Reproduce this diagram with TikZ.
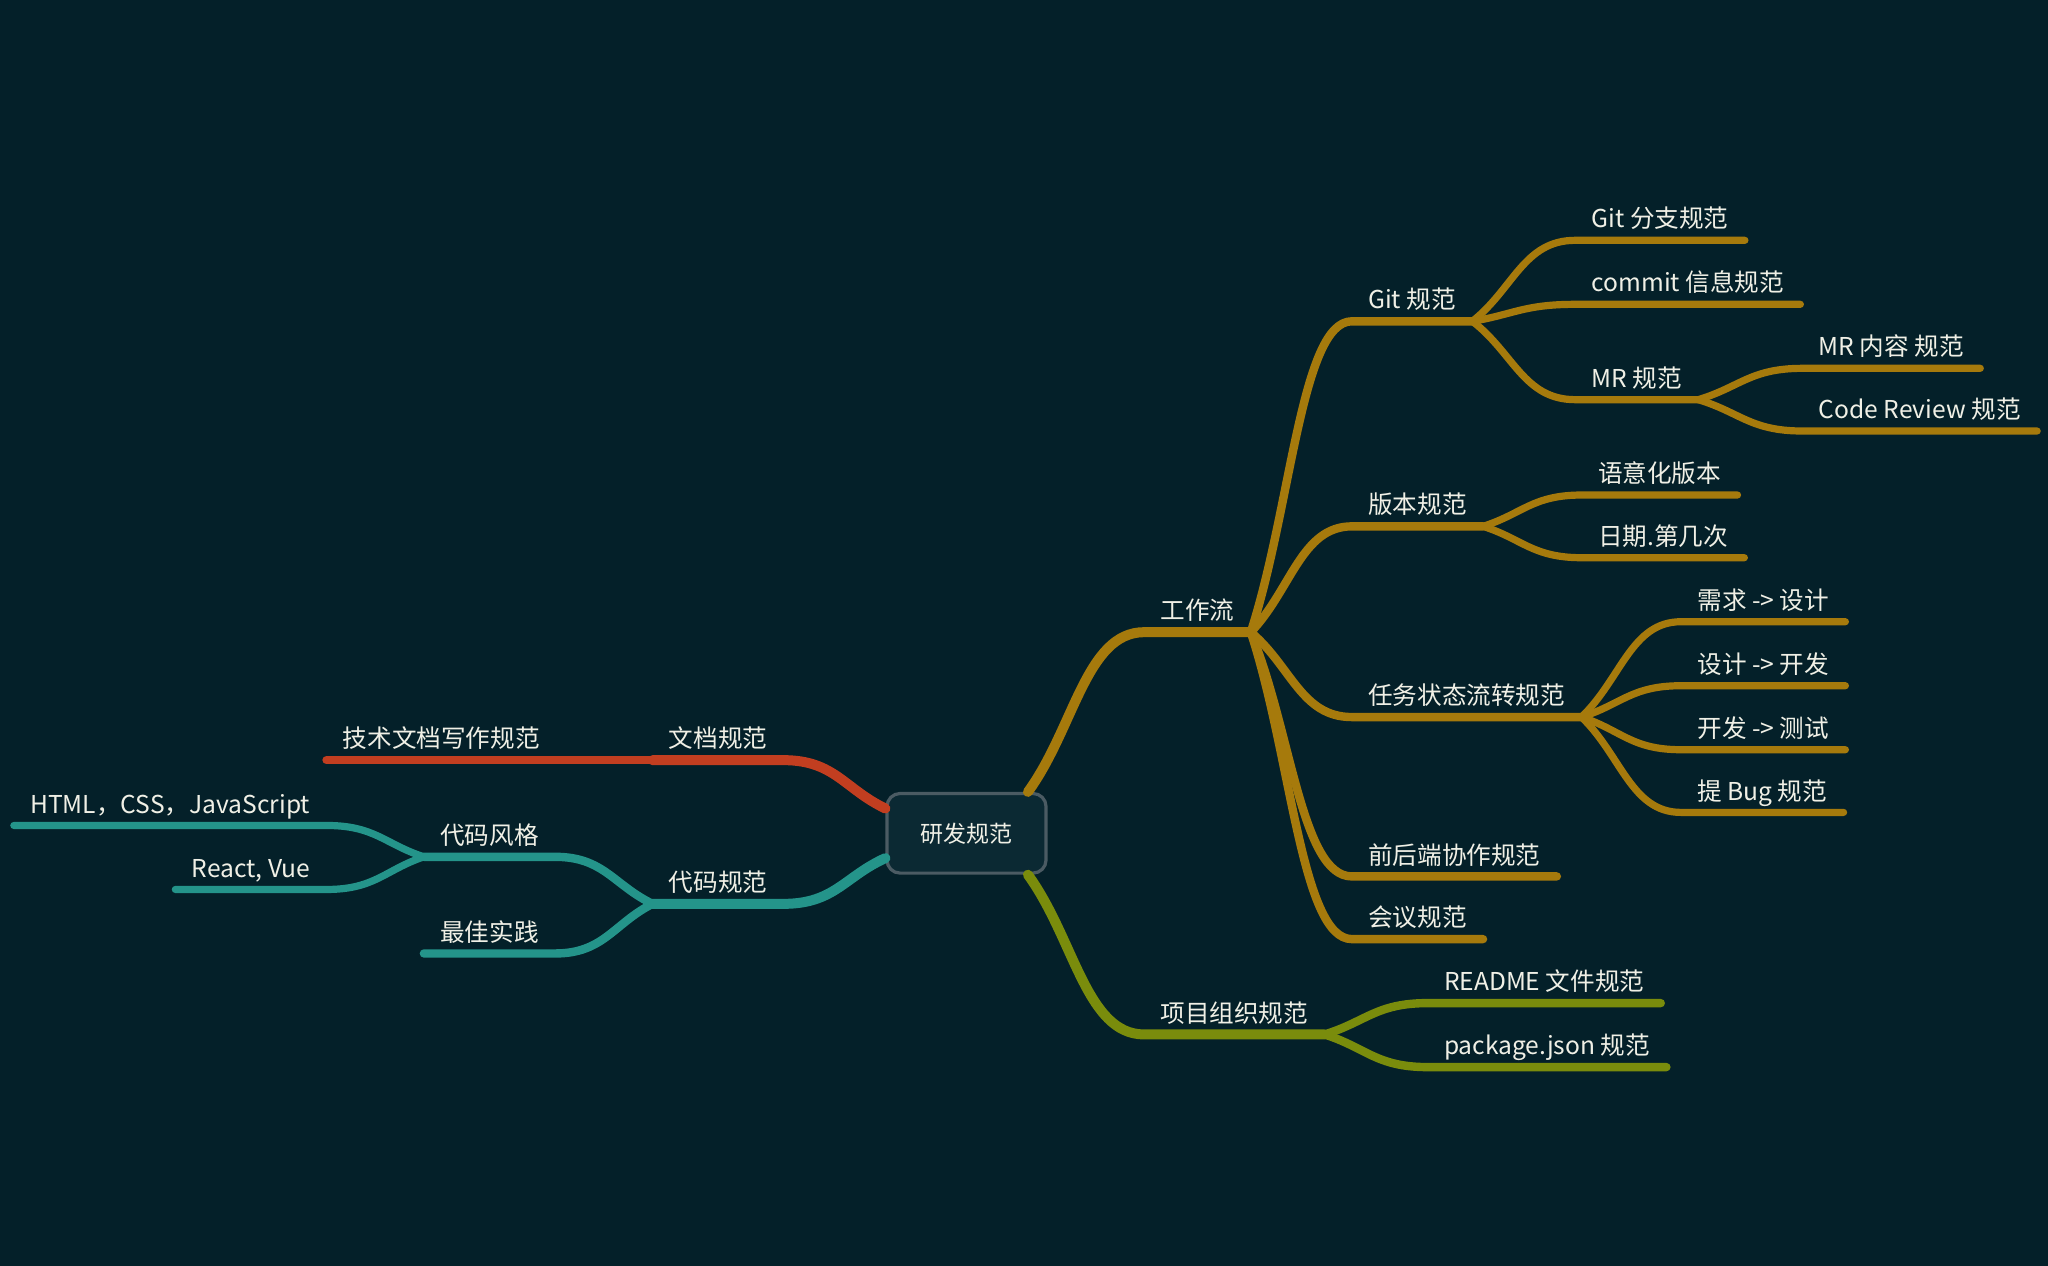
\documentclass[tikz,border=0pt]{standalone}
\usepackage{fontspec}
\newfontfamily\cjk{Noto Sans CJK SC}
\usetikzlibrary{calc}
\definecolor{mapbg}   {RGB}{  4, 32, 41}
\definecolor{rootfill}{RGB}{ 11, 41, 51}
\definecolor{rootline}{RGB}{ 75, 91, 99}
\definecolor{mapgold} {RGB}{166,122, 12}
\definecolor{mapred}  {RGB}{194, 62, 32}
\definecolor{mapteal} {RGB}{ 36,148,138}
\definecolor{mapolive}{RGB}{122,140, 12}
\definecolor{maptext} {RGB}{240,240,230}

\begin{document}
\begin{tikzpicture}[
    x=0.653pt, y=-0.653pt,
    topic/.style={inner xsep=8pt, inner ysep=6pt, text depth=0pt, text=maptext, font=\cjk\fontsize{12.3}{14}\selectfont},
    rtopic/.style={topic, anchor=south west},
    ltopic/.style={topic, anchor=south east},
    root/.style={draw=rootline, fill=rootfill, line width=1.6pt, rounded corners=6.5pt, minimum width=79.5pt, minimum height=39.8pt, text=maptext, font=\cjk\fontsize{11.5}{14}\selectfont},
    lvlone/.style={line width=5pt, line cap=round, line join=round},
    lvltwo/.style={line width=4.2pt, line cap=round, line join=round},
    lvlthree/.style={line width=3.6pt, line cap=round, line join=round},
    branch/.style={to path={.. controls ($(\tikztostart)!0.4!(\tikztotarget)$) and ($(\tikztotarget)!0.5!(\tikztostart |- \tikztotarget)$) .. (\tikztotarget)}}
]
    \fill[mapbg] (0,0) rectangle (1568,969);
    \useasboundingbox (0,0) rectangle (1568,969);

    \node[root] (ctr) at (740,638) {研发规范};

    % right side
    \node[rtopic] (flow) at (876,484) {工作流};
    \node[rtopic] (git) at (1035,246) {Git 规范};
    \node[rtopic] (gitbr) at (1206,184) {Git 分支规范};
    \node[rtopic] (commit) at (1206,233) {commit 信息规范};
    \node[rtopic] (mr) at (1206,306) {MR 规范};
    \node[rtopic] (mrbody) at (1380,282) {MR 内容 规范};
    \node[rtopic] (review) at (1380,330) {Code Review 规范};
    \node[rtopic] (ver) at (1035,403) {版本规范};
    \node[rtopic] (semver) at (1211,379) {语意化版本};
    \node[rtopic] (datever) at (1211,427) {日期.第几次};
    \node[rtopic] (task) at (1035,549) {任务状态流转规范};
    \node[rtopic] (reqdes) at (1287,476) {需求 -> 设计};
    \node[rtopic] (desdev) at (1287,525) {设计 -> 开发};
    \node[rtopic] (devtest) at (1287,574) {开发 -> 测试};
    \node[rtopic] (bug) at (1287,622) {提 Bug 规范};
    \node[rtopic] (fe) at (1035,671) {前后端协作规范};
    \node[rtopic] (meet) at (1035,719) {会议规范};
    \node[rtopic] (proj) at (876,792) {项目组织规范};
    \node[rtopic] (readme) at (1093,768) {README 文件规范};
    \node[rtopic] (pkg) at (1093,817) {package.json 规范};

    % left side
    \node[ltopic] (doc) at (600,582) {文档规范};
    \node[rtopic] (techdoc) at (250,582) {技术文档写作规范};
    \node[ltopic] (code) at (600,692) {代码规范};
    \node[ltopic] (style) at (425,656) {代码风格};
    \node[ltopic] (best) at (425,730) {最佳实践};
    \node[ltopic] (web) at (250,632) {HTML，CSS，JavaScript};
    \node[ltopic] (fw) at (250,681) {React, Vue};

    % workflow
    \draw[lvlone, mapgold] (ctr.34) to[branch] (flow.south west) -- (flow.south east);
    \draw[lvltwo, mapgold] (flow.south east) to[branch] (git.south west) -- (git.south east);
    \draw[lvltwo, mapgold] (flow.south east) to[branch] (ver.south west) -- (ver.south east);
    \draw[lvltwo, mapgold] (flow.south east) to[branch] (task.south west) -- (task.south east);
    \draw[lvltwo, mapgold] (flow.south east) to[branch] (fe.south west) -- (fe.south east);
    \draw[lvltwo, mapgold] (flow.south east) to[branch] (meet.south west) -- (meet.south east);
    \draw[lvlthree, mapgold] (git.south east) to[branch] (gitbr.south west) -- (gitbr.south east);
    \draw[lvlthree, mapgold] (git.south east) to[branch] (commit.south west) -- (commit.south east);
    \draw[lvlthree, mapgold] (git.south east) to[branch] (mr.south west) -- (mr.south east);
    \draw[lvlthree, mapgold] (mr.south east) to[branch] (mrbody.south west) -- (mrbody.south east);
    \draw[lvlthree, mapgold] (mr.south east) to[branch] (review.south west) -- (review.south east);
    \draw[lvlthree, mapgold] (ver.south east) to[branch] (semver.south west) -- (semver.south east);
    \draw[lvlthree, mapgold] (ver.south east) to[branch] (datever.south west) -- (datever.south east);
    \draw[lvlthree, mapgold] (task.south east) to[branch] (reqdes.south west) -- (reqdes.south east);
    \draw[lvlthree, mapgold] (task.south east) to[branch] (desdev.south west) -- (desdev.south east);
    \draw[lvlthree, mapgold] (task.south east) to[branch] (devtest.south west) -- (devtest.south east);
    \draw[lvlthree, mapgold] (task.south east) to[branch] (bug.south west) -- (bug.south east);

    % project
    \draw[lvlone, mapolive] (ctr.-34) to[branch] (proj.south west) -- (proj.south east);
    \draw[lvltwo, mapolive] (proj.south east) to[branch] (readme.south west) -- (readme.south east);
    \draw[lvltwo, mapolive] (proj.south east) to[branch] (pkg.south west) -- (pkg.south east);

    % docs and code
    \draw[lvlone, mapred] (ctr.163) to[branch] (doc.south east) -- (doc.south west);
    \draw[lvltwo, mapred] (doc.south west) -- (techdoc.south west);
    \draw[lvlone, mapteal] (ctr.197) to[branch] (code.south east) -- (code.south west);
    \draw[lvltwo, mapteal] (code.south west) to[branch] (style.south east) -- (style.south west);
    \draw[lvltwo, mapteal] (code.south west) to[branch] (best.south east) -- (best.south west);
    \draw[lvlthree, mapteal] (style.south west) to[branch] (web.south east) -- (web.south west);
    \draw[lvlthree, mapteal] (style.south west) to[branch] (fw.south east) -- (fw.south west);
\end{tikzpicture}
\end{document}
